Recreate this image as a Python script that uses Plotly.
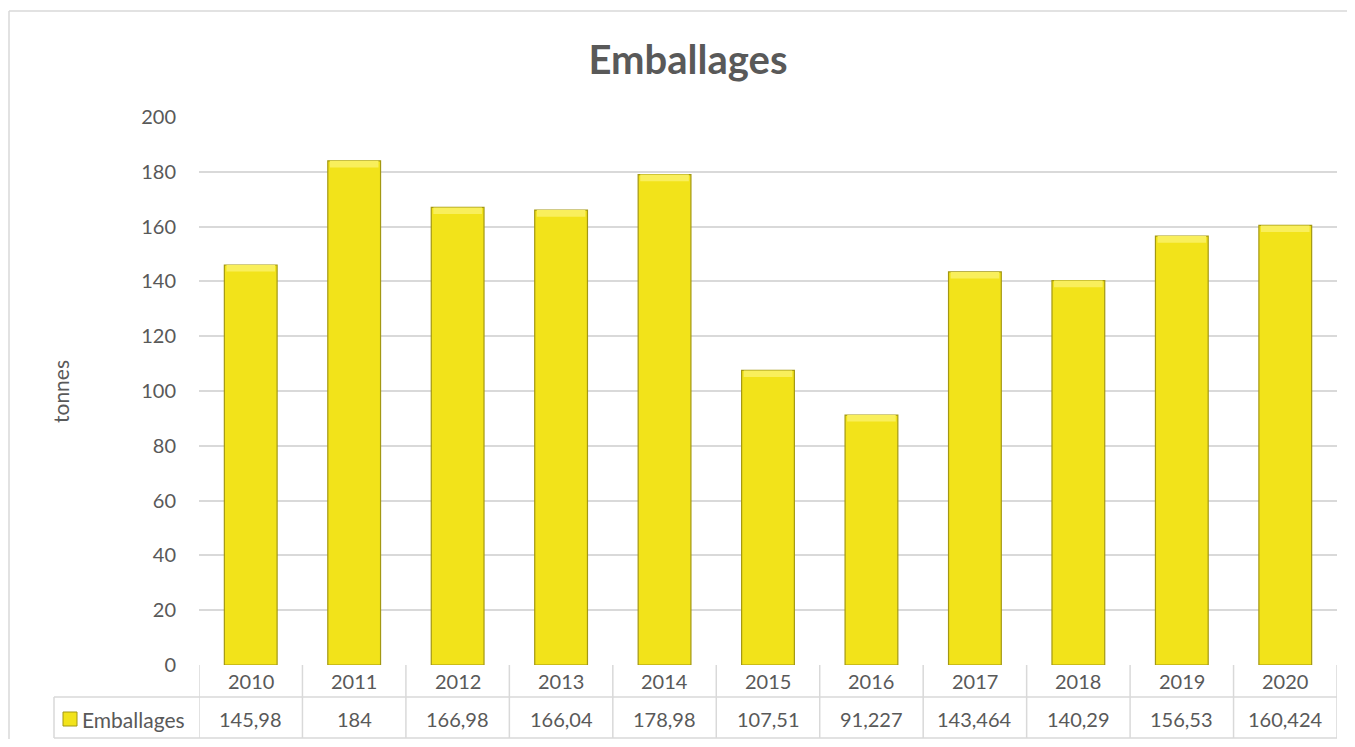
import plotly.graph_objects as go

years = ["2010", "2011", "2012", "2013", "2014", "2015", "2016", "2017", "2018", "2019", "2020"]
values = [145.98, 184, 166.98, 166.04, 178.98, 107.51, 91.227, 143.464, 140.29, 156.53, 160.424]
series_name = "Emballages"
y_ticks = [0, 20, 40, 60, 80, 100, 120, 140, 160, 180, 200]

labels = [str(v).replace(".", ",") for v in values]

FONT = "Lato, Calibri, 'Open Sans', sans-serif"
TXT = "#595959"
GRID = "#D9D9D9"

# page body has an 8px margin; work in figure pixels = page pixels - 8
OFF = 8
W, H = 1355 - 2 * OFF, 747 - 2 * OFF
L, R, T, B = 199 - OFF, 1337 - OFF, 117 - OFF, 665 - OFF
pw, ph = R - L, B - T


def px_x(x):
    return (x - OFF - L) / pw


def px_y(y):
    return (B - (y - OFF)) / ph


idx = list(range(len(years)))
cap = 2.4

fig = go.Figure()
fig.add_trace(go.Bar(
    x=idx, y=values, name=series_name, width=0.51,
    marker=dict(color="#F2E31A", line=dict(color="#A39812", width=1.2)),
    showlegend=False, hoverinfo="skip",
))
fig.add_trace(go.Bar(
    x=idx, y=[cap] * len(values), base=[v - cap for v in values], width=0.47,
    marker=dict(color="#F9EF5C", line=dict(width=0)),
    showlegend=False, hoverinfo="skip",
))

shapes = []
# outer chart border
shapes.append(dict(type="line", xref="paper", yref="paper",
                   x0=px_x(9), x1=px_x(1400), y0=px_y(11), y1=px_y(11),
                   line=dict(color=GRID, width=1.5)))
shapes.append(dict(type="line", xref="paper", yref="paper",
                   x0=px_x(9), x1=px_x(9), y0=px_y(11), y1=px_y(760),
                   line=dict(color=GRID, width=1.5)))

row1 = 697
row2 = 738
leg_x = 54
# table horizontal lines
for yy in (row1, row2):
    shapes.append(dict(type="line", xref="paper", yref="paper",
                       x0=px_x(leg_x), x1=1, y0=px_y(yy), y1=px_y(yy),
                       line=dict(color=GRID, width=1.5)))
shapes.append(dict(type="line", xref="paper", yref="paper",
                   x0=px_x(leg_x), x1=px_x(leg_x), y0=px_y(row1), y1=px_y(row2),
                   line=dict(color=GRID, width=1.5)))
# vertical category boundaries
for i in range(len(years) + 1):
    shapes.append(dict(type="line", xref="x", yref="paper",
                       x0=i - 0.5, x1=i - 0.5, y0=0, y1=px_y(row2),
                       line=dict(color=GRID, width=1.5)))
# legend key
shapes.append(dict(type="rect", xref="paper", yref="paper",
                   x0=px_x(63), x1=px_x(77), y0=px_y(726), y1=px_y(712),
                   fillcolor="#F2E31A", line=dict(color="#A39812", width=1)))

annotations = []
for i, (yr, lab) in enumerate(zip(years, labels)):
    annotations.append(dict(x=i, y=px_y(681), xref="x", yref="paper",
                            text=yr, showarrow=False, yanchor="middle",
                            font=dict(family=FONT, size=20, color=TXT)))
    annotations.append(dict(x=i, y=px_y(719), xref="x", yref="paper",
                            text=lab, showarrow=False, yanchor="middle",
                            font=dict(family=FONT, size=20, color=TXT)))
annotations.append(dict(x=px_x(80), y=px_y(719), xref="paper", yref="paper",
                        xanchor="left", yanchor="middle", text=series_name, showarrow=False,
                        font=dict(family=FONT, size=21, color=TXT)))
annotations.append(dict(x=px_x(60), y=px_y(392), xref="paper", yref="paper",
                        xanchor="center", yanchor="middle", text="tonnes", textangle=-90,
                        showarrow=False, font=dict(family=FONT, size=21, color=TXT)))

fig.update_layout(
    width=W, height=H,
    margin=dict(l=L, r=W - R, t=T, b=H - B, pad=0),
    paper_bgcolor="white", plot_bgcolor="white",
    barmode="overlay",
    title=dict(text="<b>Emballages</b>", x=px_x(688), xanchor="center", xref="paper",
               y=1 - (60 - OFF) / H, yanchor="middle",
               font=dict(family=FONT, size=40, color=TXT)),
    xaxis=dict(range=[-0.5, len(years) - 0.5], showticklabels=False, showgrid=False,
               zeroline=False, showline=False, ticks="", fixedrange=True),
    yaxis=dict(range=[0, 200], tickvals=y_ticks, showgrid=True, gridcolor=GRID, gridwidth=1.5,
               zeroline=False, showline=False, ticks="", ticklabelstandoff=22,
               tickfont=dict(family=FONT, size=20, color=TXT)),
    shapes=shapes,
    annotations=annotations,
    font=dict(family=FONT, color=TXT),
)

fig.write_html("out.html")
